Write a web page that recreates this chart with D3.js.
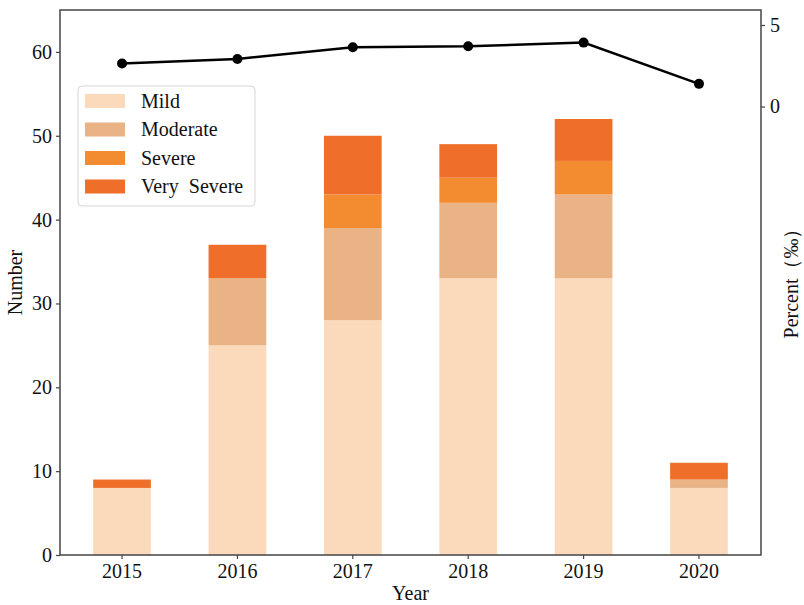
<!DOCTYPE html>
<html>
<head>
<meta charset="utf-8">
<script src="https://cdn.jsdelivr.net/npm/d3@7"></script>
<style>
  body { margin: 0; background: #fff; }
  svg text { font-family: "Liberation Serif", "Times New Roman", serif; fill: #111; }
</style>
</head>
<body>
<svg id="chart" width="804" height="605"></svg>
<script>
// Yearly case counts by severity and the incidence rate (‰)
const years = ["2015", "2016", "2017", "2018", "2019", "2020"];
const severities = ["Mild", "Moderate", "Severe", "Very  Severe"];
const mild = [8, 25, 28, 33, 33, 8];
const moderate = [0, 8, 11, 9, 10, 1];
const severe = [0, 0, 4, 3, 4, 0];
const verySevere = [1, 4, 7, 4, 5, 2];
const percent = [2.64, 2.92, 3.64, 3.70, 3.92, 1.39];
const leftTicks = [0, 10, 20, 30, 40, 50, 60];
const rightTicks = [0, 5];
const colors = ["#fbdabb", "#e9b386", "#f38b31", "#ef6e29"];

const svg = d3.select("#chart");
const margin = { left: 60, right: 761, top: 10, bottom: 555 };

const x = d3.scaleBand().domain(years)
  .range([margin.left, margin.right])
  .paddingInner(0.5).paddingOuter(0.2875);
const y = d3.scaleLinear().domain([0, 65]).range([margin.bottom, margin.top]);
const y2 = d3.scaleLinear().domain([-27.5, 5.92]).range([margin.bottom, margin.top]);

// Stack the severity series
const rows = years.map((yr, i) => ({
  year: yr,
  s0: mild[i], s1: moderate[i], s2: severe[i], s3: verySevere[i]
}));
const stacked = d3.stack().keys(["s0", "s1", "s2", "s3"])(rows);

svg.append("g").selectAll("g")
  .data(stacked)
  .join("g")
  .attr("fill", (d, i) => colors[i])
  .selectAll("rect")
  .data(d => d)
  .join("rect")
  .attr("x", d => x(d.data.year))
  .attr("width", x.bandwidth())
  .attr("y", d => y(d[1]))
  .attr("height", d => y(d[0]) - y(d[1]));

// Rate line on the right axis
const cx = d => x(d) + x.bandwidth() / 2;
const pts = years.map((yr, i) => [cx(yr), y2(percent[i])]);
svg.append("path")
  .attr("d", d3.line()(pts))
  .attr("fill", "none")
  .attr("stroke", "#000")
  .attr("stroke-width", 2.5);
svg.append("g").selectAll("circle")
  .data(pts)
  .join("circle")
  .attr("cx", d => d[0])
  .attr("cy", d => d[1])
  .attr("r", 5)
  .attr("fill", "#000");

// Frame
svg.append("rect")
  .attr("x", margin.left).attr("y", margin.top)
  .attr("width", margin.right - margin.left)
  .attr("height", margin.bottom - margin.top)
  .attr("fill", "none")
  .attr("stroke", "#444")
  .attr("stroke-width", 1.5);

// Axes
const styleAxis = g => {
  g.select(".domain").remove();
  g.selectAll(".tick line").attr("stroke", "#444").attr("stroke-width", 1.2);
  g.selectAll(".tick text").style("font-size", "20px").attr("fill", "#111");
};
svg.append("g")
  .attr("transform", `translate(0,${margin.bottom})`)
  .call(d3.axisBottom(x).tickSize(4).tickPadding(5))
  .call(styleAxis);
svg.append("g")
  .attr("transform", `translate(${margin.left},0)`)
  .call(d3.axisLeft(y).tickValues(leftTicks).tickSize(4).tickPadding(4))
  .call(styleAxis);
svg.append("g")
  .attr("transform", `translate(${margin.right},0)`)
  .call(d3.axisRight(y2).tickValues(rightTicks).tickSize(4).tickPadding(5))
  .call(styleAxis);

// Axis titles
svg.append("text")
  .attr("x", (margin.left + margin.right) / 2).attr("y", 600)
  .attr("text-anchor", "middle").style("font-size", "20px").text("Year");
svg.append("text")
  .attr("transform", `translate(22,${(margin.top + margin.bottom) / 2}) rotate(-90)`)
  .attr("text-anchor", "middle").style("font-size", "20px").text("Number");
svg.append("text")
  .attr("transform", `translate(798,${(margin.top + margin.bottom) / 2 - 4}) rotate(-90)`)
  .attr("text-anchor", "middle").style("font-size", "20px").text("Percent（‰）");

// Legend
const lg = svg.append("g").attr("transform", "translate(78,86)");
lg.append("rect")
  .attr("width", 177).attr("height", 120)
  .attr("rx", 4)
  .attr("fill", "#fff").attr("fill-opacity", 0.85)
  .attr("stroke", "#d6d6d6").attr("stroke-width", 1);
severities.forEach((s, i) => {
  const row = lg.append("g").attr("transform", `translate(0,${15 + i * 28.5})`);
  row.append("rect")
    .attr("x", 7).attr("y", -7)
    .attr("width", 40).attr("height", 14)
    .attr("fill", colors[i]);
  row.append("text")
    .attr("x", 63).attr("y", 6.5)
    .style("font-size", "20px")
    .style("white-space", "pre")
    .attr("xml:space", "preserve")
    .text(s);
});
</script>
</body>
</html>
